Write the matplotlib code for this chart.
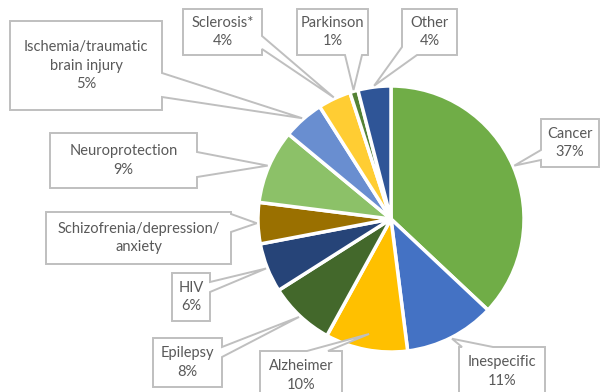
import numpy as np
import matplotlib.pyplot as plt
from matplotlib.patches import Polygon

plt.rcParams['font.family'] = ['Lato', 'DejaVu Sans']

# data
labels = ["Cancer", "Inespecific", "Alzheimer", "Epilepsy", "HIV",
          "Schizofrenia/depression/\nanxiety", "Neuroprotection",
          "Ischemia/traumatic\nbrain injury", "Sclerosis*", "Parkinson", "Other"]
values = [37, 11, 10, 8, 6, 5, 9, 5, 4, 1, 4]
show_pct = [True, True, True, True, True, False, True, True, True, True, True]
colors = ["#70AD47", "#4472C4", "#FFC000", "#43682B", "#264478", "#9A7000",
          "#8CC168", "#698ED0", "#FFCD33", "#548235", "#2F5597"]

W, H = 601, 392
fig = plt.figure(figsize=(W / 100, H / 100), dpi=100)
ax = fig.add_axes([0, 0, 1, 1])

cx, cy, r = 391, 219, 133
wedges, _ = ax.pie(values, colors=colors, startangle=90, counterclock=False,
                   center=(cx, H - cy), radius=r, explode=[0.035] * len(values),
                   wedgeprops=dict(edgecolor='white', linewidth=2.5))
ax.set_xlim(0, W)
ax.set_ylim(0, H)
ax.set_aspect('equal')
ax.axis('off')

# callout boxes (pixel coords, y down): box, side of pointer, pointer base span
boxes = [
    ((541, 119, 599, 167), 'left', (150, 160)),
    ((459, 347, 545, 396), 'top', (462, 493)),
    ((260, 351, 342, 400), 'top', (307, 328)),
    ((153, 338, 222, 387), 'right', (347, 357)),
    ((172, 273, 210, 321), 'right', (282, 292)),
    ((46, 212, 231, 264), 'right', (214, 232)),
    ((50, 133, 197, 188), 'right', (152, 177)),
    ((10, 21, 162, 110), 'right', (73, 97)),
    ((183, 9, 262, 55), 'right', (36, 49)),
    ((297, 9, 368, 55), 'bottom', (345, 362)),
    ((402, 9, 457, 55), 'corner', (47, 417)),
]
tip_k = {2: 0.88}

for i, (w, (box, side, (a, b))) in enumerate(zip(wedges, boxes)):
    mid = np.deg2rad((w.theta1 + w.theta2) / 2)
    k = tip_k.get(i, 1.01)
    tx = w.center[0] + w.r * k * np.cos(mid)
    ty = H - (w.center[1] + w.r * k * np.sin(mid))
    tip = (tx, ty)
    x0, y0, x1, y1 = box
    if side == 'top':
        pts = [(x0, y0), (a, y0), tip, (b, y0), (x1, y0), (x1, y1), (x0, y1)]
    elif side == 'right':
        pts = [(x0, y0), (x1, y0), (x1, a), tip, (x1, b), (x1, y1), (x0, y1)]
    elif side == 'bottom':
        pts = [(x0, y0), (x1, y0), (x1, y1), (b, y1), tip, (a, y1), (x0, y1)]
    elif side == 'left':
        pts = [(x0, y0), (x1, y0), (x1, y1), (x0, y1), (x0, b), tip, (x0, a)]
    else:  # bottom-left corner
        pts = [(x0, y0), (x1, y0), (x1, y1), (b, y1), tip, (x0, a)]
    pts = [(px, H - py) for px, py in pts]
    ax.add_patch(Polygon(pts, closed=True, facecolor='white', edgecolor='#BFBFBF',
                         linewidth=1.4, zorder=3, clip_on=False))
    txt = labels[i] + ("\n%d%%" % values[i] if show_pct[i] else "")
    ax.text((x0 + x1) / 2, H - (y0 + y1) / 2, txt, ha='center', va='center',
            fontsize=10.5, color='#595959', linespacing=1.45, zorder=4)

fig.savefig('out.png', dpi=100)
